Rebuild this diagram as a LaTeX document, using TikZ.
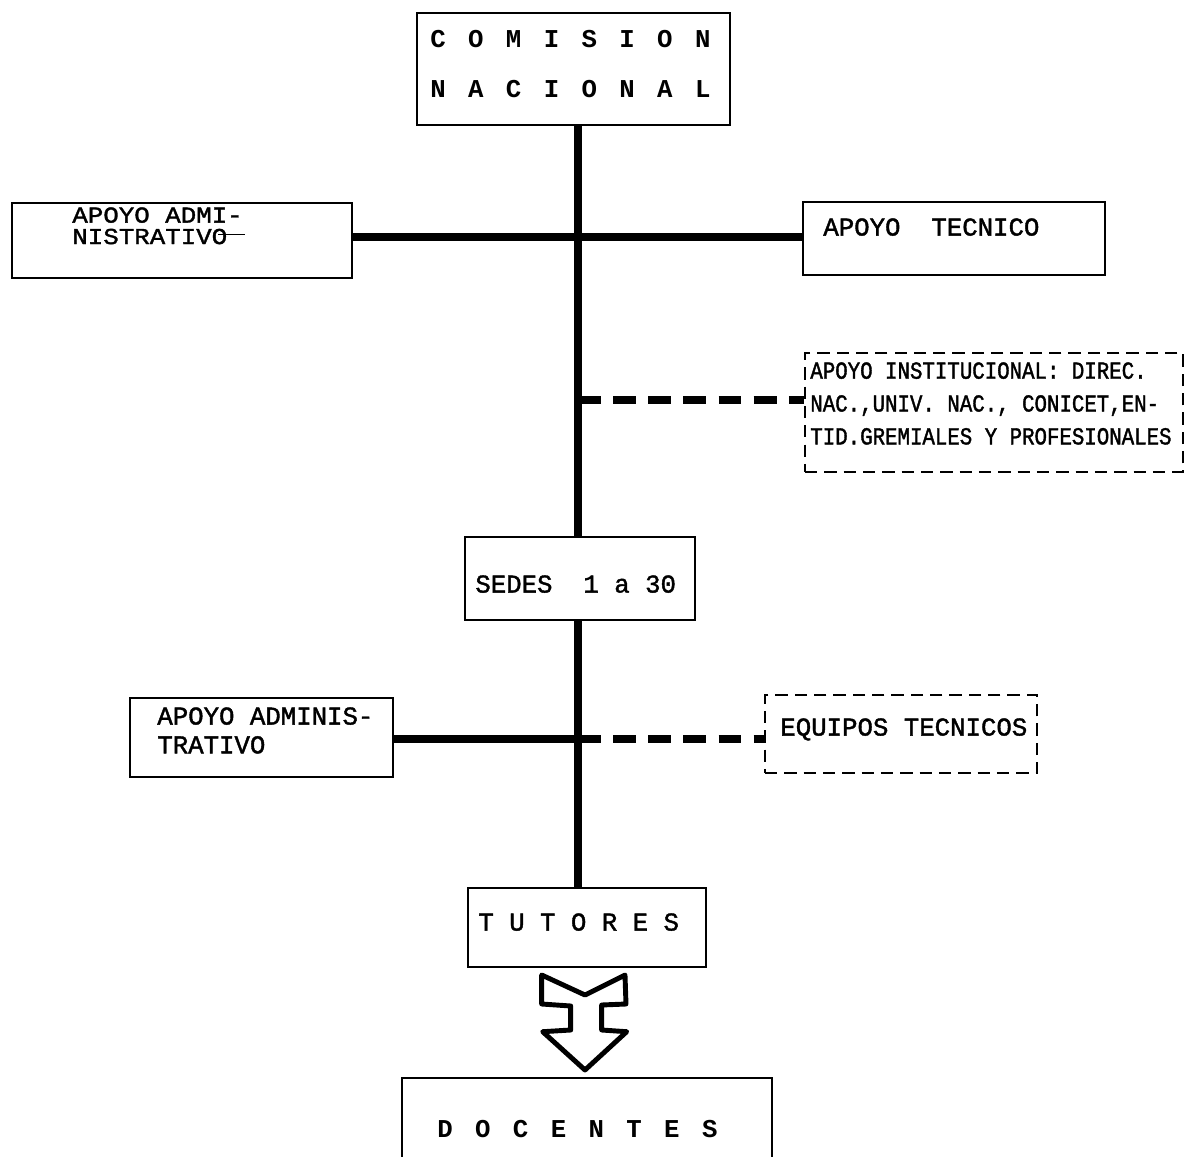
\documentclass[tikz,border=0pt]{standalone}
\usepackage{fontspec}
\newfontfamily\typewr[FakeBold=1.5]{Liberation Mono}
\newfontfamily\widewr[LetterSpace=27]{Liberation Mono}
\newfontfamily\narrowwr[FakeStretch=0.85, FakeBold=1.5]{Liberation Mono}
\newfontfamily\stretchwr[FakeStretch=1.13, FakeBold=1.5]{Liberation Mono}

\begin{document}
\begin{tikzpicture}[x=0.02cm, y=-0.02cm,
  box/.style={draw, line width=1.3pt, inner sep=0pt},
  dbox/.style={draw, line width=0.9pt, dash pattern=on 7pt off 4pt, inner sep=0pt},
  trunk/.style={line width=4.5pt},
  dashlink/.style={line width=4pt, dash pattern=on 13pt off 7pt},
  lbl/.style={anchor=north west, inner sep=0pt, align=left, font=\fontsize{14.64}{18}\selectfont\typewr}]
\useasboundingbox (0, 0) rectangle (1188, 1157);
\clip (0, 0) rectangle (1188, 1157);

% boxes
\node[box, minimum width=6.26cm, minimum height=2.24cm] (comision) at (573.5, 69) {};
\node[box, minimum width=6.8cm, minimum height=1.5cm] (admin1) at (182, 240.5) {};
\node[box, minimum width=6.04cm, minimum height=1.46cm] (tecnico) at (954, 238.5) {};
\node[dbox, minimum width=7.56cm, minimum height=2.38cm] (inst) at (994, 412.5) {};
\node[box, minimum width=4.6cm, minimum height=1.66cm] (sedes) at (580, 578.5) {};
\node[box, minimum width=5.26cm, minimum height=1.58cm] (admin2) at (261.5, 737.5) {};
\node[dbox, minimum width=5.44cm, minimum height=1.56cm] (equipos) at (901, 734) {};
\node[box, minimum width=4.76cm, minimum height=1.58cm] (tutores) at (587, 927.5) {};
\node[box, minimum width=7.4cm, minimum height=3.2cm] (docentes) at (587, 1158) {};

% texts
\node[lbl, font=\fontsize{13}{12.2}\selectfont\stretchwr] (admin1txt) at (72, 207)
  {APOYO ADMI-\\NISTRATIVO\kern-5pt\rule[5pt]{15pt}{0.9pt}};
\node[lbl, font=\fontsize{14.64}{28.3}\selectfont\widewr\bfseries] (comisiontxt) at (430, 30)
  {C O M I S I O N\\N A C I O N A L};
\node[lbl] (tecnicotxt) at (823, 218) {APOYO\ \ TECNICO};
\node[lbl, font=\fontsize{13.9}{18.7}\selectfont\narrowwr] (insttxt) at (810, 362)
  {APOYO INSTITUCIONAL: DIREC.\\NAC.,UNIV. NAC., CONICET,EN-\\TID.GREMIALES Y PROFESIONALES};
\node[lbl] (sedestxt) at (475, 575) {SEDES\ \ 1 a 30};
\node[lbl, font=\fontsize{14.64}{16.4}\selectfont\typewr] (admin2txt) at (157, 707)
  {APOYO ADMINIS-\\TRATIVO};
\node[lbl] (equipostxt) at (780, 718) {EQUIPOS TECNICOS};
\node[lbl] (tutorestxt) at (478, 913) {T U T O R E S};
\node[lbl, font=\fontsize{14.64}{18}\selectfont\widewr\bfseries] (docentestxt) at (437, 1120)
  {D O C E N T E S};

% spine and branches
\coordinate (spine) at (578, 0);
\coordinate (jtop) at (578, 237);
\coordinate (jinst) at (578, 400);
\coordinate (jlow) at (578, 739);
\draw[trunk] (comision.south -| spine) -- (sedes.north -| spine);
\draw[trunk] (sedes.south -| spine) -- (tutores.north -| spine);
\draw[trunk] (admin1.east |- jtop) -- (tecnico.west |- jtop);
\draw[dashlink] (jinst) -- (inst.west |- jinst);
\draw[trunk] (admin2.east |- jlow) -- (jlow);
\draw[dashlink] (jlow) -- (equipos.west |- jlow);

% block arrow
\draw[line width=2.8pt, line join=round]
  (541.7, 975) -- (585, 995) -- (625, 975) -- (626, 1004) -- (601.7, 1005)
  -- (601.7, 1030) -- (626.7, 1031.7) -- (585, 1070) -- (542.7, 1031.7)
  -- (570.7, 1030) -- (570.7, 1006) -- (541.7, 1004) -- cycle;
\end{tikzpicture}
\end{document}
